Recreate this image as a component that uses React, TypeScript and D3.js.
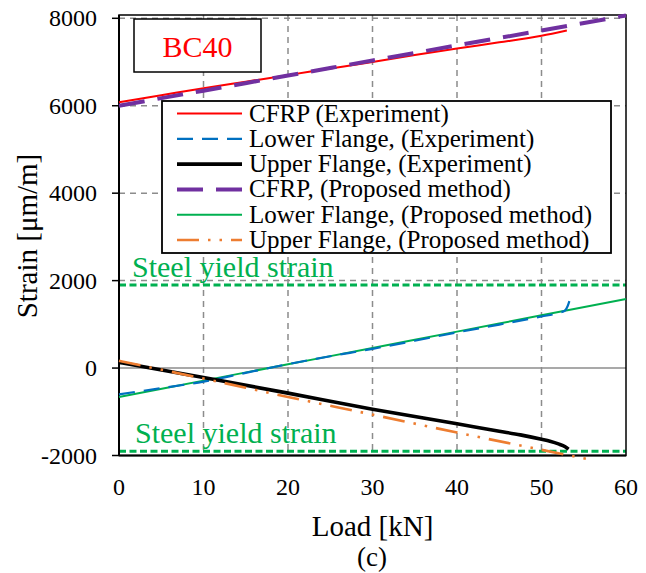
import React from "react";
import * as d3 from "d3";

// ---- data ----
const xTicks = [0, 10, 20, 30, 40, 50, 60];
const yTicks = [-2000, 0, 2000, 4000, 6000, 8000];

const loadCfrpExp = [0, 5, 10, 15, 20, 25, 30, 35, 40, 45, 50, 53];
const cfrpExp = [6080, 6240, 6400, 6550, 6700, 6850, 7000, 7160, 7310, 7450, 7600, 7720];

const loadLowerExp = [0, 5, 10, 15, 20, 25, 30, 35, 40, 45, 50, 52, 52.8, 53.1, 53.3];
const lowerExp = [-600, -460, -310, -110, 90, 270, 440, 625, 815, 995, 1180, 1260, 1320, 1420, 1530];

const loadUpperExp = [0, 10, 20, 30, 40, 45, 47.5, 50, 51, 52, 52.8, 53.2];
const upperExp = [130, -215, -573, -940, -1276, -1445, -1528, -1630, -1675, -1735, -1800, -1856];

const loadProp = [0, 10, 20, 30, 40, 50, 60];
const cfrpProp = [6000, 6345, 6690, 7035, 7380, 7720, 8065];
const lowerProp = [-660, -287, 86, 459, 833, 1206, 1580];

const loadUpperProp = [0, 10, 20, 30, 40, 50, 55.5];
const upperProp = [165, -240, -660, -1065, -1475, -1870, -2085];

const yieldStrain = [1900, -1900];

const legendLabels = [
  "CFRP (Experiment)",
  "Lower Flange, (Experiment)",
  "Upper Flange, (Experiment)",
  "CFRP, (Proposed method)",
  "Lower Flange, (Proposed method)",
  "Upper Flange, (Proposed method)",
];

const FONT = "'Liberation Serif', 'Times New Roman', serif";

const styles = [
  { color: "#FF0000", width: 2, dash: "" },
  { color: "#0070C0", width: 2.2, dash: "16,9" },
  { color: "#000000", width: 3.6, dash: "" },
  { color: "#7030A0", width: 4, dash: "26,13" },
  { color: "#00B050", width: 2, dash: "" },
  { color: "#ED7D31", width: 2.6, dash: "22,9,2.5,9,2.5,9" },
];

export default function App() {
  const W = 646, H = 573;
  const x = d3.scaleLinear().domain([0, 60]).range([119, 626]);
  const y = d3.scaleLinear().domain([-2000, 8000]).range([455.5, 18.3]);
  const line = d3
    .line<[number, number]>()
    .x((d) => x(d[0]))
    .y((d) => y(d[1]))
    .curve(d3.curveMonotoneX);
  const zip = (a: number[], b: number[]) => a.map((v, i) => [v, b[i]] as [number, number]);

  const series = [
    zip(loadCfrpExp, cfrpExp),
    zip(loadLowerExp, lowerExp),
    zip(loadUpperExp, upperExp),
    zip(loadProp, cfrpProp),
    zip(loadProp, lowerProp),
    zip(loadUpperProp, upperProp),
  ];
  const order = [4, 0, 1, 2, 5, 3];

  const left = x(0), right = x(60), top = 15, bottom = y(-2000);

  return (
    <svg width={W} height={H} style={{ position: "absolute", left: 0, top: 0, background: "#fff", fontFamily: FONT }}>
      {/* grid */}
      {xTicks.slice(1, -1).map((t) => (
        <line key={"gx" + t} x1={x(t)} x2={x(t)} y1={top} y2={bottom} stroke="#8C8C8C" strokeWidth={1.5} strokeDasharray="6,5" />
      ))}
      {yTicks.filter((t) => t > 0).map((t) => (
        <line key={"gy" + t} x1={left} x2={right} y1={y(t)} y2={y(t)} stroke="#8C8C8C" strokeWidth={1.5} strokeDasharray="6,5" />
      ))}
      <line x1={left} x2={right} y1={y(0)} y2={y(0)} stroke="#8C8C8C" strokeWidth={1.6} />

      {/* steel yield lines */}
      {yieldStrain.map((v) => (
        <line key={"ys" + v} x1={left} x2={right} y1={y(v)} y2={y(v)} stroke="#00B050" strokeWidth={3} strokeDasharray="7,3.5" />
      ))}

      {/* frame */}
      <rect x={left} y={top} width={right - left} height={bottom - top} fill="none" stroke="#000" strokeWidth={1.5} />
      <line x1={left} x2={left} y1={top} y2={bottom} stroke="#000" strokeWidth={2} />
      <line x1={left} x2={right} y1={bottom} y2={bottom} stroke="#000" strokeWidth={2} />

      {/* y ticks */}
      {yTicks.map((t) => (
        <g key={"yt" + t}>
          <line x1={left - 7} x2={left} y1={y(t)} y2={y(t)} stroke="#000" strokeWidth={1.5} />
          <text x={97} y={y(t) + 8} textAnchor="end" fontSize={24} fill="#000">
            {t}
          </text>
        </g>
      ))}
      {/* x ticks */}
      {xTicks.map((t) => (
        <text key={"xt" + t} x={x(t)} y={495} textAnchor="middle" fontSize={24} fill="#000">
          {t}
        </text>
      ))}

      {/* series */}
      {order.map((i) => (
        <path
          key={"s" + i}
          d={line(series[i]) || ""}
          fill="none"
          stroke={styles[i].color}
          strokeWidth={styles[i].width}
          strokeDasharray={styles[i].dash || undefined}
          strokeLinejoin="round"
        />
      ))}

      {/* yield labels */}
      <text x={132} y={277} fontSize={30} fill="#00B050">Steel yield strain</text>
      <text x={135} y={443} fontSize={30} fill="#00B050">Steel yield strain</text>

      {/* BC40 box */}
      <rect x={134} y={19} width={127} height={53} fill="#fff" stroke="#000" strokeWidth={1.5} />
      <text x={197.5} y={57} textAnchor="middle" fontSize={30} fill="#FF0000">BC40</text>

      {/* legend */}
      <rect x={162} y={101} width={449} height={152} fill="#fff" stroke="#000" strokeWidth={1.8} />
      {legendLabels.map((lab, i) => {
        const cy = 113.5 + i * 25.3;
        return (
          <g key={"lg" + i}>
            <line x1={177} x2={242} y1={cy} y2={cy} stroke={styles[i].color} strokeWidth={styles[i].width} strokeDasharray={styles[i].dash || undefined} />
            <text x={249} y={cy + 8} fontSize={25} fill="#000">{lab}</text>
          </g>
        );
      })}

      {/* axis titles */}
      <text x={372.5} y={536} textAnchor="middle" fontSize={29} fill="#000">Load [kN]</text>
      <text transform={`translate(37,236) rotate(-90)`} textAnchor="middle" fontSize={29} fill="#000">Strain [μm/m]</text>
      <text x={372} y={566} textAnchor="middle" fontSize={27} fill="#000">(c)</text>
    </svg>
  );
}
